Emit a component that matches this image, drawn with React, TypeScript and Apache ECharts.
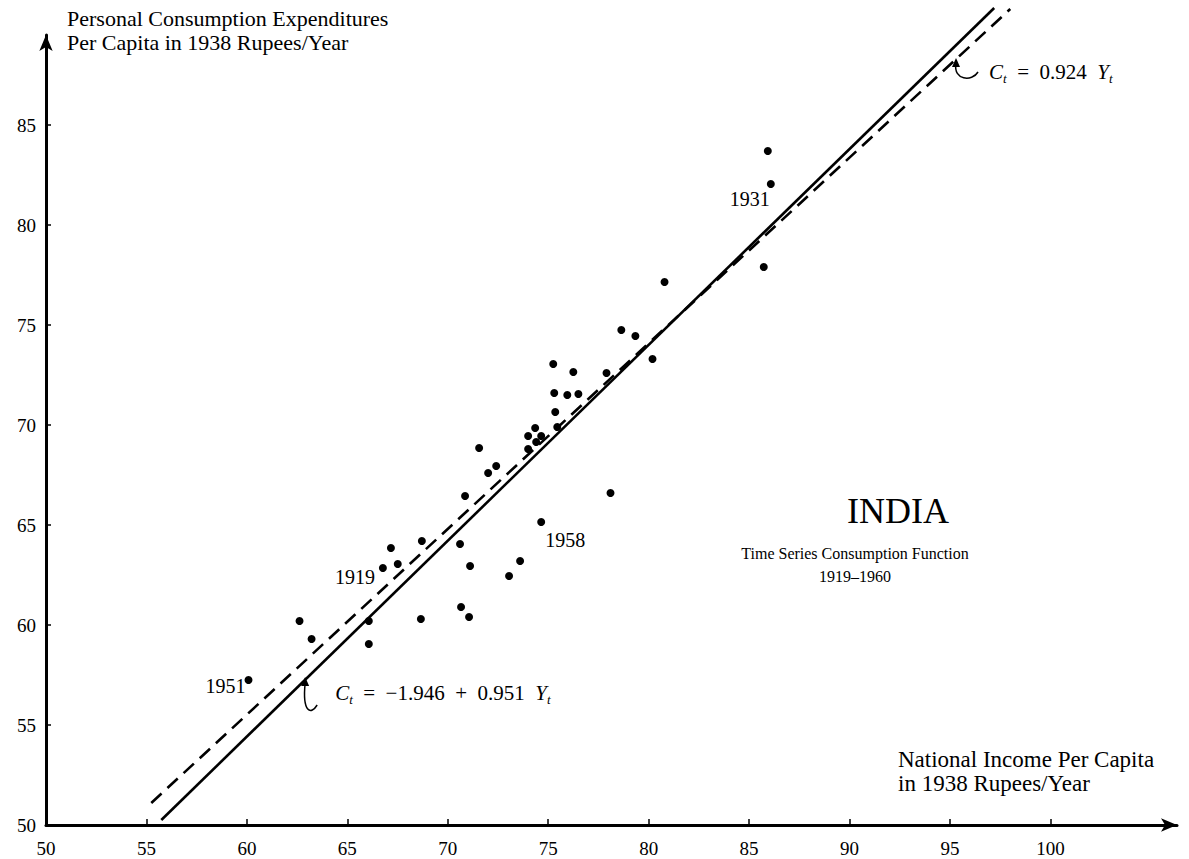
import React, { useEffect, useRef } from "react";
import * as echarts from "echarts";

// National income per capita (x) and consumption per capita (y), 1938 rupees/year
const incomeX = [
  60.08, 62.62, 63.22, 66.07, 66.07, 66.77, 67.17, 67.51, 68.71, 68.66,
  70.61, 70.66, 71.06, 70.86, 71.11, 71.56, 72.01, 72.41, 73.05, 73.6,
  74.0, 74.0, 74.35, 74.65, 74.4, 75.35, 75.25, 75.3, 75.95, 76.5,
  76.25, 74.65, 77.9, 78.1, 78.64, 79.34, 80.19, 80.79, 85.73, 85.93,
  86.08, 75.45,
];
const consumptionY = [
  57.25, 60.2, 59.3, 60.2, 59.05, 62.85, 63.85, 63.05, 64.2, 60.3,
  64.05, 60.9, 60.4, 66.45, 62.95, 68.85, 67.6, 67.95, 62.45, 63.2,
  68.8, 69.45, 69.85, 69.45, 69.15, 70.65, 73.05, 71.6, 71.5, 71.55,
  72.65, 65.15, 72.6, 66.6, 74.75, 74.45, 73.3, 77.15, 77.9, 83.7,
  82.05, 69.9,
];
// labelled years -> index of point
const labelledYears = ["1951", "1919", "1958", "1931"];
const labelledIndex = [0, 6, 31, 40];

// fitted lines (end points)
const solidLineX = [55.74, 97.2];
const solidLineY = [50.25, 90.85];
const dashedLineX = [55.24, 98.0];
const dashedLineY = [51.1, 90.8];

const xTickValues = [55, 60, 65, 70, 75, 80, 85, 90, 95, 100];
const xLabelValues = [50, 55, 60, 65, 70, 75, 80, 85, 90, 95, 100];
const yTickValues = [55, 60, 65, 70, 75, 80, 85];
const yLabelValues = [50, 55, 60, 65, 70, 75, 80, 85];

const yTitle = "Personal Consumption Expenditures\nPer Capita in 1938 Rupees/Year";
const xTitle = "National Income Per Capita\nin 1938 Rupees/Year";
const countryTitle = "INDIA";
const subTitle = "Time Series Consumption Function\n1919–1960";
const formulaProportional = "  =  0.924  ";
const formulaLinear = "  =  −1.946  +  0.951  ";

const FONT = "'Liberation Serif', 'DejaVu Serif', serif";

export default function App() {
  const ref = useRef<HTMLDivElement>(null);
  useEffect(() => {
    if (!ref.current) return;
    document.body.style.margin = "0";
    const chart = echarts.init(ref.current, null, { renderer: "svg" });
    const points = incomeX.map((x, i) => [x, consumptionY[i]]);
    const labelStyle = {
      color: "#000",
      fontFamily: FONT,
      fontSize: 19,
      formatter: (v: number) => `{t|${v}}`,
      rich: { t: { fontFamily: FONT, fontSize: 19, color: "#000" } },
    };
    chart.setOption({
      animation: false,
      backgroundColor: "#ffffff",
      textStyle: { fontFamily: FONT, fontSize: 19, color: "#000" },
      grid: { left: 46, right: 12, top: 35, bottom: 34 },
      xAxis: {
        type: "value",
        min: 50,
        max: 106.3,
        interval: 5,
        axisLine: {
          show: true,
          symbol: ["none", "arrow"],
          symbolSize: [10, 16],
          lineStyle: { color: "#000", width: 3 },
        },
        axisTick: {
          show: true,
          inside: true,
          length: 6,
          customValues: xTickValues,
          lineStyle: { color: "#000", width: 1.5 },
        },
        axisLabel: {
          customValues: xLabelValues,
          ...labelStyle,
          margin: 14,
        },
        splitLine: { show: false },
      },
      yAxis: {
        type: "value",
        min: 50,
        max: 89.5,
        interval: 5,
        axisLine: {
          show: true,
          symbol: ["none", "arrow"],
          symbolSize: [10, 16],
          lineStyle: { color: "#000", width: 3 },
        },
        axisTick: {
          show: true,
          inside: true,
          length: 5,
          customValues: yTickValues,
          lineStyle: { color: "#000", width: 1.5 },
        },
        axisLabel: {
          customValues: yLabelValues,
          ...labelStyle,
          margin: 10,
        },
        splitLine: { show: false },
      },
      series: [
        {
          type: "line",
          data: solidLineX.map((x, i) => [x, solidLineY[i]]),
          showSymbol: false,
          clip: false,
          lineStyle: { color: "#000", width: 2.6, opacity: 1 },
          z: 2,
        },
        {
          type: "line",
          data: dashedLineX.map((x, i) => [x, dashedLineY[i]]),
          showSymbol: false,
          clip: false,
          lineStyle: { color: "#000", width: 2.6, type: [14, 8], opacity: 1 },
          z: 2,
        },
        {
          type: "scatter",
          data: points,
          symbol: "circle",
          symbolSize: 8,
          itemStyle: { color: "#000", opacity: 1 },
          z: 3,
        },
      ],
    });

    const px = (x: number, y: number) =>
      chart.convertToPixel({ gridIndex: 0 }, [x, y]) as number[];

    const txt = (
      text: string,
      x: number,
      y: number,
      size: number,
      align: string,
      extra: any = {}
    ) => ({
      type: "text",
      x,
      y,
      style: {
        text,
        fill: "#000",
        font: `${size}px ${FONT}`,
        align,
        verticalAlign: "middle",
        ...extra,
      },
    });

    const yearOffsets = [
      [-23, 6],
      [-36, 29],
      [24, 18],
      [-21, 15],
    ];
    const yearTexts = labelledYears.map((yr, k) => {
      const [x, y] = px(incomeX[labelledIndex[k]], consumptionY[labelledIndex[k]]);
      return txt(yr, x + yearOffsets[k][0], y + yearOffsets[k][1], 20, "center");
    });

    const rich = {
      i: { fontFamily: FONT, fontSize: 21, fontStyle: "italic", lineHeight: 26, verticalAlign: "middle" },
      s: { fontFamily: FONT, fontSize: 13, fontStyle: "italic", lineHeight: 13, verticalAlign: "bottom" },
      n: { fontFamily: FONT, fontSize: 21, lineHeight: 26, verticalAlign: "middle" },
    };
    const formula = (body: string, x: number, y: number) => ({
      type: "text",
      x,
      y,
      style: {
        text: `{i|C}{s|t}{n|${body}}{i|Y}{s|t}`,
        rich,
        fill: "#000",
        align: "left",
        verticalAlign: "middle",
      },
    });

    const a1 = px(95.3, 88.35); // tip of upper hook arrow (dashed line)
    const a2 = px(62.9, 57.4); // tip of lower hook arrow (solid line)

    const hook = (tip: number[], sx: number, sy: number) => [
      {
        type: "bezierCurve",
        shape: {
          x1: tip[0] + sx,
          y1: tip[1] + sy,
          cpx1: tip[0] + sx - 6,
          cpy1: tip[1] + sy + 10,
          cpx2: tip[0] - 3,
          cpy2: tip[1] + sy + 8,
          x2: tip[0],
          y2: tip[1] + 6,
        },
        style: { stroke: "#000", lineWidth: 1.5, fill: null },
      },
      {
        type: "polygon",
        shape: {
          points: [
            [tip[0], tip[1]],
            [tip[0] - 4, tip[1] + 9],
            [tip[0] + 4, tip[1] + 9],
          ],
        },
        style: { fill: "#000" },
      },
    ];

    chart.setOption({
      graphic: [
        {
          type: "text",
          x: 67,
          y: 6,
          style: {
            text: yTitle,
            fill: "#000",
            font: `22px ${FONT}`,
            lineHeight: 24,
            align: "left",
            verticalAlign: "top",
          },
        },
        {
          type: "text",
          x: 898,
          y: 747,
          style: {
            text: xTitle,
            fill: "#000",
            font: `23px ${FONT}`,
            lineHeight: 24,
            align: "left",
            verticalAlign: "top",
          },
        },
        txt(countryTitle, 898, 511, 36, "center"),
        {
          type: "text",
          x: 855,
          y: 542,
          style: {
            text: subTitle,
            fill: "#000",
            font: `16px ${FONT}`,
            lineHeight: 23,
            align: "center",
            verticalAlign: "top",
          },
        },
        ...yearTexts,
        formula(formulaProportional, a1[0] + 33, a1[1] + 14),
        formula(formulaLinear, a2[0] + 30, a2[1] + 16),
        ...hook(a1, 22, 14),
        ...hook(a2, 12, 28),
      ],
    });
    return () => chart.dispose();
  }, []);
  return (
    <div
      ref={ref}
      style={{ position: "absolute", left: 0, top: 0, width: 1189, height: 859 }}
    />
  );
}
